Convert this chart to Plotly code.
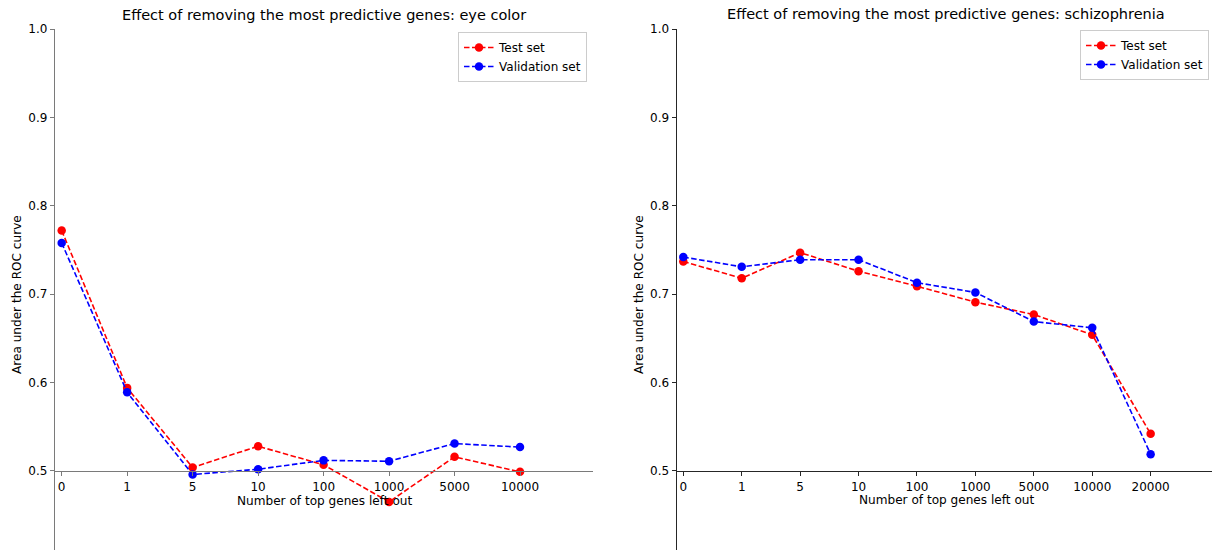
import plotly.graph_objects as go

# ---- data ----
eye_labels = ["0", "1", "5", "10", "100", "1000", "5000", "10000"]
eye_test = [0.772, 0.594, 0.504, 0.528, 0.507, 0.465, 0.516, 0.499]
eye_val = [0.758, 0.589, 0.496, 0.502, 0.512, 0.511, 0.531, 0.527]

scz_labels = ["0", "1", "5", "10", "100", "1000", "5000", "10000", "20000"]
scz_test = [0.737, 0.718, 0.747, 0.726, 0.709, 0.691, 0.677, 0.654, 0.542]
scz_val = [0.742, 0.731, 0.739, 0.739, 0.713, 0.702, 0.669, 0.662, 0.519]

yticks = [0.5, 0.6, 0.7, 0.8, 0.9, 1.0]
title_left = "Effect of removing the most predictive genes: eye color"
title_right = "Effect of removing the most predictive genes: schizophrenia"
xlabel = "Number of top genes left out"
ylabel = "Area under the ROC curve"

# ---- layout geometry (pixels) ----
W, H = 1212, 550
FONT = "DejaVu Sans"
ymin, ymax = 0.4106, 1.0
ydom = [0.0, (H - 29) / H]
xpos_axis = ydom[1] * (0.5 - ymin) / (ymax - ymin)

def px(x):
    return x / W

def py(y):
    return (H - y) / H

dash = "5.5px,2.5px"
fig = go.Figure()

def add_series(xlabels, test, val, xa, ya, leg):
    idx = list(range(len(xlabels)))
    fig.add_trace(go.Scatter(x=idx, y=test, mode="lines+markers", name="Test set",
                             line=dict(color="#ff0000", width=1.6, dash=dash),
                             marker=dict(color="#ff0000", size=8.5),
                             xaxis=xa, yaxis=ya, legend=leg))
    fig.add_trace(go.Scatter(x=idx, y=val, mode="lines+markers", name="Validation set",
                             line=dict(color="#0000ff", width=1.6, dash=dash),
                             marker=dict(color="#0000ff", size=8.5),
                             xaxis=xa, yaxis=ya, legend=leg))

add_series(eye_labels, eye_test, eye_val, "x", "y", "legend")
add_series(scz_labels, scz_test, scz_val, "x2", "y2", "legend2")

tickfont = dict(family=FONT, size=12, color="#000000")

def xaxis_cfg(dom, rng, labels, lc):
    return dict(domain=dom, range=rng, anchor="free", position=xpos_axis,
                tickvals=list(range(len(labels))), ticktext=labels,
                showgrid=False, zeroline=False, showline=True, linecolor=lc, linewidth=1.3,
                ticks="outside", ticklen=4, tickcolor=lc, tickwidth=1, tickfont=tickfont,
                fixedrange=True, automargin=False)

def yaxis_cfg(anchor, lc):
    return dict(domain=ydom, range=[ymin, ymax], anchor=anchor,
                tickvals=yticks, ticktext=[f"{v:.1f}" for v in yticks],
                showgrid=False, zeroline=False, showline=True, linecolor=lc, linewidth=1.3,
                ticks="outside", ticklen=4, tickcolor=lc, tickwidth=1, tickfont=tickfont,
                fixedrange=True, automargin=False)

legend_common = dict(font=dict(family=FONT, size=12, color="#000"),
                     bgcolor="rgba(255,255,255,0.9)", bordercolor="#cccccc", borderwidth=1,
                     xanchor="right", yanchor="top", tracegroupgap=0, itemwidth=30)

fig.update_layout(
    width=W, height=H,
    margin=dict(l=0, r=0, t=0, b=0, pad=0, autoexpand=False),
    paper_bgcolor="white", plot_bgcolor="white",
    font=dict(family=FONT, color="#000"),
    xaxis=xaxis_cfg([px(55), px(592.7)], [-0.102, 8.11], eye_labels, "#7a7a7a"),
    yaxis=yaxis_cfg("x", "#7a7a7a"),
    xaxis2=xaxis_cfg([px(676.7), 1.0], [-0.113, 9.05], scz_labels, "#262626"),
    yaxis2=yaxis_cfg("x2", "#262626"),
    legend=dict(x=px(587), y=py(32), **legend_common),
    legend2=dict(x=px(1209), y=py(30), **legend_common),
    showlegend=True,
)

ann = []
for cx, ty, t in [(324, 15, title_left), (946, 14, title_right)]:
    ann.append(dict(x=px(cx), y=py(ty), xref="paper", yref="paper", text=t, showarrow=False,
                    xanchor="center", yanchor="middle",
                    font=dict(family=FONT, size=14.5, color="#000")))
for cx, ty in [(324, 501), (946, 500)]:
    ann.append(dict(x=px(cx), y=py(ty), xref="paper", yref="paper", text=xlabel, showarrow=False,
                    xanchor="center", yanchor="middle",
                    font=dict(family=FONT, size=12.1, color="#000")))
for cx, ty in [(17, 295), (639, 295)]:
    ann.append(dict(x=px(cx), y=py(ty), xref="paper", yref="paper", text=ylabel, showarrow=False,
                    xanchor="center", yanchor="middle", textangle=-90,
                    font=dict(family=FONT, size=12.1, color="#000")))
fig.update_layout(annotations=ann)

fig.write_html("out.html")
